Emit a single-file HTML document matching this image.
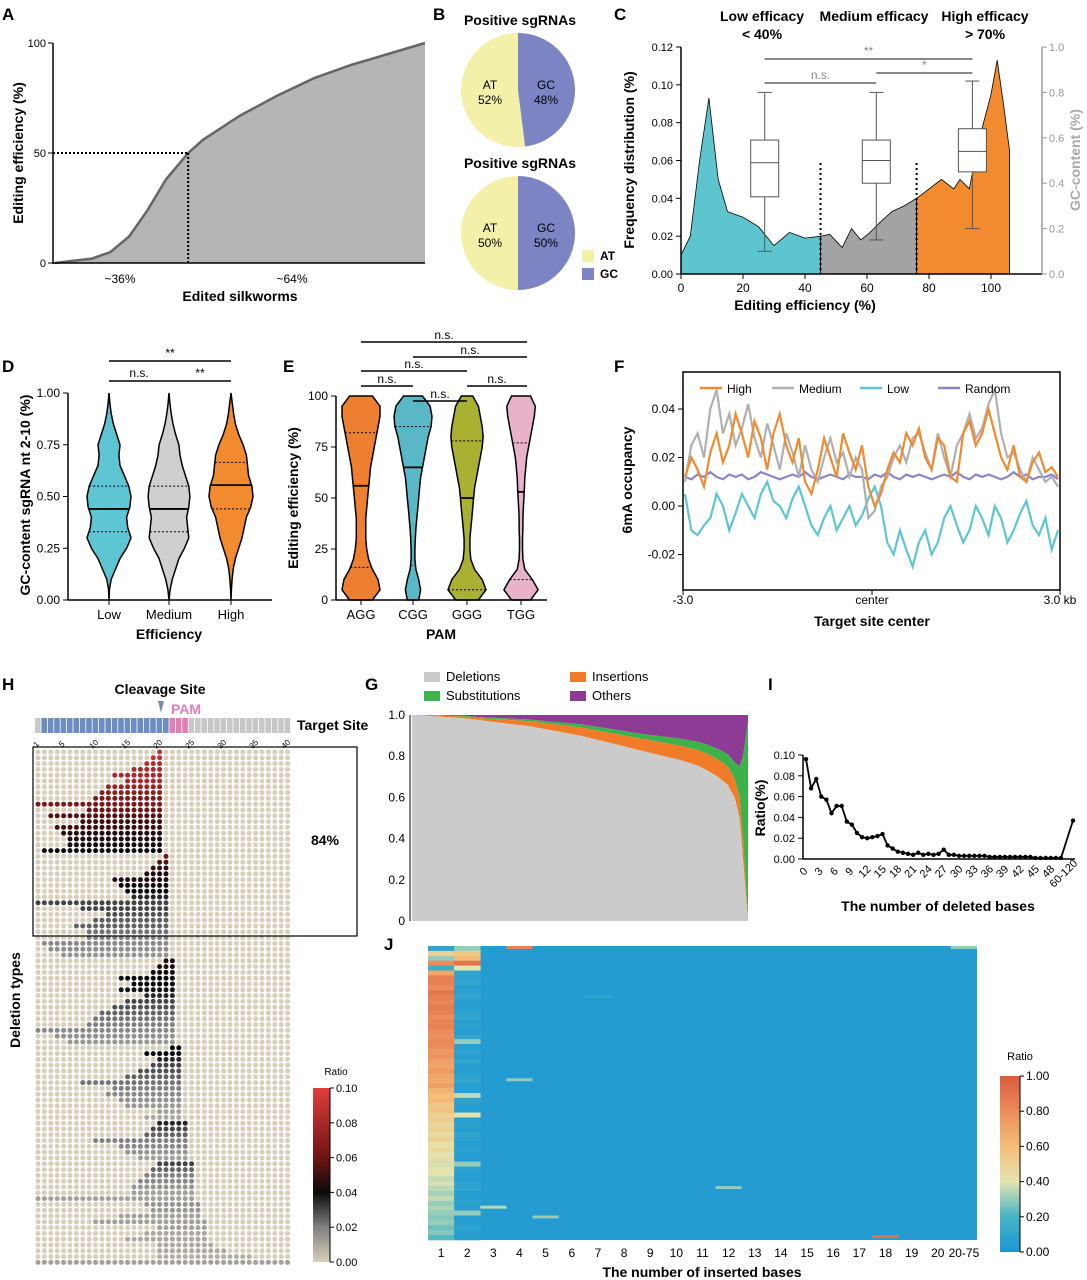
<!DOCTYPE html>
<html><head><meta charset="utf-8"><style>
body{margin:0;background:#fff}
svg{display:block;font-family:"Liberation Sans",Arial,sans-serif}
.pl{font-size:17px;font-weight:bold}
.t{font-size:12px}
.tb{font-size:14px;font-weight:bold}
</style></head><body>
<svg id="s" width="1087" height="1280" viewBox="0 0 1087 1280" xmlns="http://www.w3.org/2000/svg">
<g>
<text class="pl" x="2" y="20">A</text><text class="pl" x="433" y="20">B</text><text class="pl" x="614" y="20">C</text>
<text class="pl" x="2" y="372">D</text><text class="pl" x="283" y="372">E</text><text class="pl" x="614" y="372">F</text>
<text class="pl" x="2" y="690">H</text><text class="pl" x="365" y="690">G</text><text class="pl" x="768" y="690">I</text><text class="pl" x="384" y="950">J</text>
</g>
</svg>
<script>
const NS="http://www.w3.org/2000/svg";const S=document.getElementById('s');
function E(t,a,p,txt){const e=document.createElementNS(NS,t);for(const k in a)e.setAttribute(k,a[k]);if(txt!==undefined)e.textContent=txt;(p||S).appendChild(e);return e;}
function G(name){const g=E('g',{});return g;}

// ---------- DATA ----------
const aX=[0,0.05,0.1,0.15,0.2,0.25,0.3,0.36,0.4,0.5,0.6,0.7,0.8,0.9,1.0];
const aY=[0,1,2,5,12,24,38,50,56,67,76,84,90,95,100];
const pie1=[52,48];const pie2=[50,50];
const cEffCyan=[0,3,6,9,12,15,20,25,30,35,40,45];
const cFreqCyan=[0.01,0.02,0.06,0.093,0.05,0.033,0.03,0.025,0.015,0.022,0.019,0.02];
const cEffGray=[45,48,52,55,58,61,64,68,72,76];
const cFreqGray=[0.02,0.021,0.014,0.024,0.018,0.022,0.027,0.033,0.036,0.04];
const cEffOr=[76,80,84,88,90,93,96,100,102,104,106];
const cFreqOr=[0.04,0.045,0.05,0.045,0.05,0.045,0.07,0.095,0.113,0.09,0.065];
const cBoxPos=[27,63,94];
const cBoxStats=[[0.1,0.34,0.49,0.59,0.8],[0.15,0.4,0.5,0.59,0.8],[0.2,0.45,0.54,0.64,0.85]];
const dCats=['Low','Medium','High'];
const dDens=[[0,0.02,0.1,0.3,0.5,0.8,1,0.85,0.8,0.95,1,0.9,0.7,0.5,0.45,0.5,0.35,0.2,0.1,0.04,0],
[0,0.05,0.15,0.3,0.45,0.7,0.9,0.85,0.8,0.9,0.95,0.9,0.75,0.6,0.5,0.45,0.3,0.18,0.1,0.04,0],
[0,0.02,0.05,0.1,0.2,0.35,0.5,0.6,0.7,0.9,1,0.95,0.8,0.75,0.7,0.55,0.35,0.2,0.12,0.06,0]];
const dQ=[[0.33,0.44,0.55],[0.33,0.44,0.55],[0.44,0.555,0.665]];
const eCats=['AGG','CGG','GGG','TGG'];
const eDens=[[0.6,1,0.9,0.6,0.4,0.3,0.25,0.25,0.25,0.3,0.35,0.4,0.45,0.5,0.6,0.7,0.8,0.9,1,1,0.6],
[0.3,0.4,0.3,0.15,0.1,0.1,0.12,0.15,0.2,0.25,0.3,0.35,0.4,0.5,0.6,0.7,0.8,0.95,1,0.9,0.5],
[0.6,1,0.8,0.4,0.2,0.15,0.15,0.2,0.25,0.3,0.35,0.4,0.5,0.6,0.7,0.8,0.85,0.8,0.7,0.6,0.3],
[0.5,0.9,0.6,0.2,0.1,0.08,0.08,0.1,0.1,0.12,0.15,0.18,0.2,0.25,0.3,0.4,0.5,0.6,0.7,0.75,0.5]];
const eQ=[[16,56,82],[17,65,85],[5,50,78],[10,53,77]];
const fHigh=[0.012,0.02,0.015,0.008,0.022,0.03,0.018,0.025,0.038,0.03,0.02,0.035,0.028,0.015,0.03,0.038,0.025,0.018,0.028,0.01,0.005,0.015,0.028,0.02,0.012,0.03,0.022,0.015,0.025,0.008,0.0,0.005,0.015,0.022,0.018,0.03,0.025,0.032,0.02,0.015,0.028,0.025,0.012,0.01,0.03,0.035,0.025,0.03,0.04,0.03,0.02,0.015,0.025,0.012,0.01,0.018,0.022,0.014,0.016,0.012];
const fMed=[0.01,0.025,0.03,0.02,0.04,0.048,0.03,0.038,0.025,0.032,0.042,0.028,0.02,0.034,0.025,0.015,0.03,0.022,0.012,0.025,0.015,0.01,0.02,0.028,0.018,0.022,0.012,0.02,0.015,-0.005,-0.002,0.008,0.012,0.02,0.025,0.018,0.028,0.03,0.022,0.015,0.03,0.02,0.012,0.025,0.03,0.038,0.028,0.032,0.042,0.048,0.03,0.02,0.022,0.015,0.01,0.02,0.015,0.01,0.012,0.008];
const fLow=[0.005,-0.01,-0.012,-0.008,-0.005,0.005,0.0,-0.01,-0.003,0.005,0.0,-0.005,0.005,0.01,0.002,0.0,-0.005,0.003,0.008,0.0,-0.008,-0.012,-0.005,0.0,-0.01,-0.005,0.0,-0.008,-0.004,0.003,0.008,0.0,-0.015,-0.02,-0.01,-0.018,-0.025,-0.015,-0.01,-0.02,-0.015,-0.005,0.0,-0.008,-0.015,-0.01,0.0,-0.005,-0.012,0.0,-0.005,-0.015,-0.01,-0.003,0.002,-0.008,-0.012,-0.005,-0.018,-0.01];
const fRand=[0.012,0.011,0.013,0.012,0.014,0.012,0.011,0.013,0.012,0.013,0.011,0.012,0.014,0.013,0.012,0.011,0.012,0.013,0.012,0.014,0.012,0.011,0.012,0.013,0.012,0.011,0.013,0.012,0.012,0.011,0.013,0.012,0.014,0.012,0.011,0.013,0.012,0.013,0.012,0.011,0.012,0.013,0.012,0.014,0.012,0.011,0.013,0.012,0.013,0.012,0.011,0.012,0.014,0.012,0.013,0.011,0.012,0.012,0.013,0.011];
const gX=[0,0.05,0.1,0.15,0.2,0.25,0.3,0.35,0.4,0.45,0.5,0.55,0.6,0.65,0.7,0.75,0.8,0.85,0.88,0.91,0.94,0.96,0.975,0.985,1];
const gDel=[1,0.995,0.99,0.985,0.975,0.965,0.955,0.945,0.93,0.915,0.9,0.88,0.86,0.84,0.82,0.8,0.78,0.755,0.73,0.7,0.66,0.6,0.5,0.3,0];
const gIns=[0,0.003,0.005,0.008,0.01,0.015,0.02,0.025,0.03,0.035,0.04,0.045,0.05,0.055,0.06,0.065,0.07,0.075,0.08,0.085,0.09,0.09,0.1,0.1,0.02];
const gSub=[0,0.002,0.003,0.004,0.005,0.006,0.007,0.008,0.01,0.012,0.015,0.018,0.02,0.022,0.025,0.03,0.035,0.04,0.045,0.05,0.06,0.08,0.15,0.4,0.95];
const iVals=[0.096,0.068,0.077,0.06,0.057,0.044,0.051,0.051,0.036,0.033,0.025,0.021,0.02,0.021,0.022,0.024,0.013,0.01,0.007,0.006,0.005,0.004,0.006,0.004,0.005,0.004,0.005,0.009,0.004,0.004,0.003,0.003,0.003,0.003,0.003,0.003,0.002,0.002,0.002,0.002,0.002,0.002,0.002,0.002,0.002,0.001,0.001,0.001,0.001,0.001,0.001,0.037];
const iTicks=['0','3','6','9','12','15','18','21','24','27','30','33','36','39','42','45','48'];
const hDel=[[20,20,.09],[19,20,.09],[18,20,.085],[16,20,.08],[13,20,.08],[15,20,.08],[12,20,.075],[11,20,.07],[10,20,.065],[1,20,.065],[9,20,.06],[3,20,.055],[8,20,.05],[4,20,.05],[5,20,.045],[6,20,.045],[6,20,.042],[2,20,.04],
[21,21,.06],[20,21,.055],[19,21,.05],[18,21,.045],[13,21,.045],[14,21,.042],[15,21,.04],[16,21,.035],[1,21,.03],[8,21,.03],[12,21,.028],[10,21,.026],[7,21,.025],[9,21,.022],[9,21,.02],[2,21,.018],[3,21,.017],[5,21,.015],
[21,22,.045],[20,22,.045],[19,22,.042],[14,22,.04],[16,22,.04],[14,22,.038],[18,22,.035],[15,22,.03],[13,22,.028],[11,22,.025],[10,22,.022],[9,22,.02],[1,22,.018],[4,22,.016],[6,22,.014],
[22,23,.04],[18,23,.04],[20,23,.035],[19,23,.03],[17,23,.028],[15,23,.025],[8,23,.022],[13,23,.02],[12,23,.018],[14,23,.016],[15,23,.014],[20,23,.012],[18,23,.01],
[20,24,.035],[19,24,.03],[18,24,.025],[10,24,.02],[14,24,.018],[15,24,.015],[17,24,.012],
[20,25,.03],[19,25,.025],[18,25,.02],[17,25,.018],[16,25,.015],[16,25,.012],[1,25,.012],
[18,26,.015],[19,26,.014],[14,26,.012],[10,27,.012],[20,27,.012],[18,27,.01],[15,27,.01],[20,28,.01],[20,30,.01],[20,34,.008],[1,40,.012]];
const jCols=['1','2','3','4','5','6','7','8','9','10','11','12','13','14','15','16','17','18','19','20','20-75'];
const jCol1=[0.1,0.5,0.3,0.8,0.15,0.7,0.85,0.85,0.8,0.88,0.85,0.82,0.86,0.84,0.8,0.83,0.85,0.8,0.78,0.82,0.8,0.75,0.78,0.72,0.7,0.74,0.7,0.68,0.72,0.65,0.6,0.62,0.55,0.58,0.5,0.52,0.48,0.5,0.45,0.5,0.42,0.46,0.4,0.44,0.38,0.42,0.4,0.36,0.38,0.35,0.32,0.36,0.3,0.33,0.3,0.28,0.3,0.25,0.28,0.22];
const jCol2=[0.3,0.55,0.6,0.9,0.4,0.1,0.08,0.1,0.05,0.08,0.1,0.06,0.05,0.08,0.1,0.06,0.08,0.05,0.1,0.3,0.06,0.08,0.05,0.1,0.06,0.05,0.08,0.1,0.06,0.05,0.35,0.08,0.06,0.05,0.4,0.06,0.08,0.05,0.1,0.06,0.05,0.08,0.06,0.05,0.3,0.08,0.06,0.05,0.08,0.1,0.06,0.05,0.08,0.06,0.3,0.05,0.06,0.08,0.05,0.06];
const jSpikes=[[0,3,0.85],[0,20,0.3],[27,3,0.3],[55,4,0.3],[53,2,0.35],[49,11,0.3],[59,17,0.9],[10,6,0.1]];

// ---------- helpers ----------
function txt(p,x,y,s,extra){const a=Object.assign({x:x,y:y,'font-size':12,'text-anchor':'middle'},extra||{});return E('text',a,p,s);}
function poly(pts){return pts.map((p,i)=>(i?'L':'M')+p[0].toFixed(1)+' '+p[1].toFixed(1)).join(' ');}

// ---------- A ----------
(function(){const g=G('panel-a-cumulative');const X=f=>55+f*370,Y=v=>263-v*2.2;
const pts=aX.map((f,i)=>[X(f),Y(aY[i])]);
const a=E('path',{d:poly([[X(0),263]].concat(pts).concat([[X(1),263]]))+'Z',fill:'#b5b5b7'},g);
const l=E('path',{d:poly(pts),fill:'none',stroke:'#666',"stroke-width":2.5},g);
E('line',{x1:53,y1:43,x2:53,y2:264,stroke:'#000','stroke-width':1.5},g);E('line',{x1:53,y1:263,x2:425,y2:263,stroke:'#000','stroke-width':1.5},g);
[0,50,100].forEach(v=>{E('line',{x1:48,x2:53,y1:Y(v),y2:Y(v),stroke:'#000'},g);txt(g,46,Y(v)+4,v,{'text-anchor':'end','font-size':11});});
E('line',{x1:53,y1:Y(50),x2:X(0.36),y2:Y(50),stroke:'#000','stroke-dasharray':'2,2','stroke-width':2},g);
E('line',{x1:X(0.36),y1:Y(50),x2:X(0.36),y2:263,stroke:'#000','stroke-dasharray':'2,2','stroke-width':2},g);
txt(g,120,283,'~36%');txt(g,292,283,'~64%');
const xt=txt(g,240,301,'Edited silkworms',{class:'tb'});
const yt=txt(g,23,153,'Editing efficiency (%)',{class:'tb',transform:'rotate(-90 23 153)'});})();

// ---------- B ----------
(function(){const g=G('panel-b-pies');
function pie(cy,vals,title){txt(g,520,cy-65,title,{class:'tb'});const r=57,cx=518;
const ang=vals[0]/100*2*Math.PI;
const x1=cx-r*Math.sin(ang),y1=cy-r*Math.cos(ang);
const s1=E('path',{d:`M${cx} ${cy} L${cx} ${cy-r} A${r} ${r} 0 ${ang>Math.PI?1:0} 0 ${x1} ${y1} Z`,fill:'#f3f0a9'},g);
const s2=E('path',{d:`M${cx} ${cy} L${cx} ${cy-r} A${r} ${r} 0 ${ang>Math.PI?0:1} 1 ${x1} ${y1} Z`,fill:'#7c84c4'},g);
txt(g,490,cy-1,'AT');txt(g,490,cy+14,vals[0]+'%');txt(g,546,cy-1,'GC');txt(g,546,cy+14,vals[1]+'%');}
pie(90,pie1,'Positive sgRNAs');pie(233,pie2,'Positive sgRNAs');
E('rect',{x:582,y:250,width:12,height:12,fill:'#f3f0a9'},g);txt(g,600,260,'AT',{'text-anchor':'start','font-weight':'bold'});
E('rect',{x:582,y:268,width:12,height:12,fill:'#7c84c4'},g);txt(g,600,278,'GC',{'text-anchor':'start','font-weight':'bold'});})();

// ---------- C ----------
(function(){const g=G('panel-c-frequency');const X=v=>681+v*3.1,Y=v=>274-v*1891.7,Yr=v=>274-v*227;
function area(xs,ys,col,name){const pts=xs.map((x,i)=>[X(x),Y(ys[i])]);const p=E('path',{d:poly([[X(xs[0]),274]].concat(pts).concat([[X(xs[xs.length-1]),274]]))+'Z',fill:col,stroke:'#000','stroke-width':0.8},g);}
area(cEffCyan,cFreqCyan,'#5ec5cf','low-efficacy-area');area(cEffGray,cFreqGray,'#a3a3a5','medium-efficacy-area');area(cEffOr,cFreqOr,'#f28a30','high-efficacy-area');
[45,76].forEach(v=>E('line',{x1:X(v),x2:X(v),y1:163,y2:274,stroke:'#000','stroke-dasharray':'2,3','stroke-width':2},g));
cBoxPos.forEach((p,i)=>{const s=cBoxStats[i],cx=X(p);const b=G('box-'+i);g.appendChild(b);
E('line',{x1:cx,x2:cx,y1:Yr(s[0]),y2:Yr(s[4]),stroke:'#555'},b);[s[0],s[4]].forEach(v=>E('line',{x1:cx-7,x2:cx+7,y1:Yr(v),y2:Yr(v),stroke:'#555'},b));
E('rect',{x:cx-14,y:Yr(s[3]),width:28,height:Yr(s[1])-Yr(s[3]),fill:'#fff',stroke:'#555'},b);E('line',{x1:cx-14,x2:cx+14,y1:Yr(s[2]),y2:Yr(s[2]),stroke:'#555'},b);});
E('line',{x1:681,x2:681,y1:47,y2:274,stroke:'#000','stroke-width':1.5},g);E('line',{x1:681,x2:1042,y1:274,y2:274,stroke:'#000','stroke-width':1.5},g);
E('line',{x1:1042,x2:1042,y1:47,y2:274,stroke:'#999','stroke-width':1.5},g);
[0,0.02,0.04,0.06,0.08,0.10,0.12].forEach(v=>{E('line',{x1:676,x2:681,y1:Y(v),y2:Y(v),stroke:'#000'},g);txt(g,673,Y(v)+4,v.toFixed(2),{'text-anchor':'end','font-size':11});});
[0,0.2,0.4,0.6,0.8,1.0].forEach(v=>{E('line',{x1:1042,x2:1047,y1:Yr(v),y2:Yr(v),stroke:'#999'},g);txt(g,1049,Yr(v)+4,v===0?'0.0':v.toFixed(1),{'text-anchor':'start','font-size':11,fill:'#999'});});
[0,20,40,60,80,100].forEach(v=>{E('line',{x1:X(v),x2:X(v),y1:274,y2:279,stroke:'#000'},g);txt(g,X(v),292,v,{'font-size':12});});
txt(g,805,310,'Editing efficiency (%)',{class:'tb'});
txt(g,634,160,'Frequency distribution (%)',{class:'tb',transform:'rotate(-90 634 160)'});
txt(g,1080,160,'GC-content (%)',{class:'tb',fill:'#aaa',transform:'rotate(-90 1080 160)'});
txt(g,762,21,'Low efficacy',{class:'tb','font-size':13});txt(g,762,39,'< 40%',{class:'tb','font-size':13});
txt(g,874,21,'Medium efficacy',{class:'tb','font-size':13});txt(g,985,21,'High efficacy',{class:'tb','font-size':13});txt(g,985,39,'> 70%',{class:'tb','font-size':13});
[[X(cBoxPos[0]),X(cBoxPos[2]),59,'**'],[X(cBoxPos[0]),X(cBoxPos[1]),83,'n.s.'],[X(cBoxPos[1]),X(cBoxPos[2]),73,'*']].forEach(s=>{E('line',{x1:s[0],x2:s[1],y1:s[2],y2:s[2],stroke:'#888','stroke-width':2},g);txt(g,(s[0]+s[1])/2,s[2]-4,s[3],{fill:'#888','font-size':12});});})();

// ---------- violin helper ----------
function violin(g,cx,dens,vals,yFn,step,hw,col,q,name){const L=[],R=[];dens.forEach((d,i)=>{const y=yFn(i*step);L.push([cx-d*hw,y]);R.push([cx+d*hw,y]);});
const p=E('path',{d:poly(L.concat(R.reverse()))+'Z',fill:col,stroke:'#000','stroke-width':1.5},g);
function wAt(v){const f=v/step,i=Math.floor(f),t=f-i;return ((dens[i]||0)*(1-t)+(dens[i+1]||0)*t)*hw;}
q.forEach((v,k)=>{const w=wAt(v);E('line',{x1:cx-w,x2:cx+w,y1:yFn(v),y2:yFn(v),stroke:'#000','stroke-width':k===1?1.8:1,'stroke-dasharray':k===1?'':'2,2'},g);});}

// ---------- D ----------
(function(){const g=G('panel-d-violins');const Y=v=>600-v*207;const xs=[109,169,231];const cols=['#5ec5d3','#cfcfcf','#f28a30'];
dDens.forEach((d,i)=>violin(g,xs[i],d,null,Y,0.05,22,cols[i],dQ[i],'violin-'+dCats[i].toLowerCase()));
E('line',{x1:68,x2:68,y1:393,y2:600,stroke:'#000','stroke-width':1.5},g);E('line',{x1:68,x2:272,y1:600,y2:600,stroke:'#000','stroke-width':1.5},g);
[0,0.25,0.5,0.75,1].forEach(v=>{E('line',{x1:63,x2:68,y1:Y(v),y2:Y(v),stroke:'#000'},g);txt(g,60,Y(v)+4,v.toFixed(2),{'text-anchor':'end'});});
dCats.forEach((c,i)=>{E('line',{x1:xs[i],x2:xs[i],y1:600,y2:605,stroke:'#000'},g);txt(g,xs[i],619,c,{'font-size':13});});
txt(g,169,639,'Efficiency',{class:'tb'});txt(g,30,495,'GC-content sgRNA nt 2-10 (%)',{class:'tb',transform:'rotate(-90 30 495)'});
[[109,231,361,'**'],[109,169,381,'n.s.'],[169,231,381,'**']].forEach(s=>{E('line',{x1:s[0],x2:s[1],y1:s[2],y2:s[2],stroke:'#000','stroke-width':1.5},g);txt(g,(s[0]+s[1])/2,s[2]-4,s[3]);});})();

// ---------- E ----------
(function(){const g=G('panel-e-violins');const Y=v=>600-v*2.04;const xs=[361,413,467,521];const cols=['#ee7f30','#5ab8c6','#a9b132','#e8b2cb'];
eDens.forEach((d,i)=>violin(g,xs[i],d,null,Y,5,19,cols[i],eQ[i],'violin-'+eCats[i].toLowerCase()));
E('line',{x1:336,x2:336,y1:396,y2:600,stroke:'#000','stroke-width':1.5},g);E('line',{x1:336,x2:547,y1:600,y2:600,stroke:'#000','stroke-width':1.5},g);
[0,25,50,75,100].forEach(v=>{E('line',{x1:331,x2:336,y1:Y(v),y2:Y(v),stroke:'#000'},g);txt(g,328,Y(v)+4,v,{'text-anchor':'end'});});
eCats.forEach((c,i)=>{E('line',{x1:xs[i],x2:xs[i],y1:600,y2:605,stroke:'#000'},g);txt(g,xs[i],619,c,{'font-size':13});});
txt(g,441,639,'PAM',{class:'tb'});txt(g,298,498,'Editing efficiency (%)',{class:'tb',transform:'rotate(-90 298 498)'});
[[361,527,342],[413,527,357],[361,467,371],[361,413,386],[467,527,386],[413,467,401]].forEach(s=>{E('line',{x1:s[0],x2:s[1],y1:s[2],y2:s[2],stroke:'#000','stroke-width':1.5},g);txt(g,(s[0]+s[1])/2,s[2]-3,'n.s.');});})();

// ---------- F ----------
(function(){const g=G('panel-f-occupancy');const n=fHigh.length;const X=i=>685+i*(373/(n-1)),Y=v=>506-v*2425;
E('rect',{x:683,y:372,width:377,height:218,fill:'none',stroke:'#000','stroke-width':1.5},g);
[[fRand,'#8a86c6','random'],[fLow,'#5ec5d3','low'],[fMed,'#b0b0b0','medium'],[fHigh,'#f28a30','high']].forEach(s=>{const p=E('path',{d:poly(s[0].map((v,i)=>[X(i),Y(v)])),fill:'none',stroke:s[1],'stroke-width':2.2},g);});
[0.04,0.02,0,-0.02].forEach(v=>{E('line',{x1:678,x2:683,y1:Y(v),y2:Y(v),stroke:'#000'},g);txt(g,675,Y(v)+4,v===0?'0.00':v.toFixed(2),{'text-anchor':'end'});});
[['-3.0',683],['center',872],['3.0 kb',1060]].forEach(t=>{E('line',{x1:t[1],x2:t[1],y1:590,y2:595,stroke:'#000'},g);txt(g,t[1],604,t[0]);});
txt(g,872,626,'Target site center',{class:'tb'});txt(g,632,480,'6mA occupancy',{class:'tb',transform:'rotate(-90 632 480)'});
[['High','#f28a30',700],['Medium','#b0b0b0',772],['Low','#5ec5d3',860],['Random','#8a86c6',938]].forEach(l=>{E('line',{x1:l[2],x2:l[2]+22,y1:388,y2:388,stroke:l[1],'stroke-width':2.5},g);txt(g,l[2]+27,393,l[0],{'text-anchor':'start'});});})();

// ---------- H ----------
(function(){const g=G('panel-h-deletions');const X=c=>38+(c-1)*6.4,Y=r=>752+r*5.8;
function col(v){const st=[[0,[217,206,186]],[0.02,[128,128,128]],[0.04,[10,10,10]],[0.06,[110,20,20]],[0.1,[226,60,60]]];for(let i=1;i<st.length;i++){if(v<=st[i][0]){const t=(v-st[i-1][0])/(st[i][0]-st[i-1][0]);const c=st[i-1][1].map((a,k)=>Math.round(a+(st[i][1][k]-a)*t));return `rgb(${c})`;}}return 'rgb(226,60,60)';}
for(let c=1;c<=40;c++){const cc=c<=1?'#c8c8c8':c<=21?'#6d8cc0':c<=24?'#e07fb3':'#c8c8c8';E('rect',{x:X(c)-3,y:718,width:5.6,height:15,fill:cc},g);
if(c===1||c%5===0)txt(g,X(c),746,c,{'font-size':8,transform:`rotate(-45 ${X(c)} 746)`});}
txt(g,160,694,'Cleavage Site',{class:'tb','font-size':13});E('path',{d:'M158 701 L164 701 L161 713 Z',fill:'#6d8cc0'},g);
txt(g,186,714,'PAM',{class:'tb','font-size':12,fill:'#e07fb3'});txt(g,297,730,'Target Site',{class:'tb','font-size':13,'text-anchor':'start'});
const dots=G('dot-matrix');g.appendChild(dots);
for(let r=0;r<hDel.length;r++){const d=hDel[r];for(let c=1;c<=40;c++){const v=(c>=d[0]&&c<=d[1])?d[2]:0;E('circle',{cx:X(c),cy:Y(r),r:2.5,fill:col(v)},dots);}}
E('rect',{x:33,y:747,width:324,height:189,fill:'none',stroke:'#000','stroke-width':1.2},g);txt(g,325,845,'84%',{class:'tb','font-size':15});
txt(g,20,1000,'Deletion types',{class:'tb','font-size':15,transform:'rotate(-90 20 1000)'});
const lg=E('defs',{},g);const gr=E('linearGradient',{id:'hg',x1:0,y1:1,x2:0,y2:0},lg);
[[0,'rgb(217,206,186)'],[0.2,'rgb(128,128,128)'],[0.4,'rgb(10,10,10)'],[0.6,'rgb(110,20,20)'],[1,'rgb(226,60,60)']].forEach(s=>E('stop',{offset:s[0],'stop-color':s[1]},gr));
E('rect',{x:313,y:1088,width:17,height:174,fill:'url(#hg)'},g);E('line',{x1:330,x2:330,y1:1088,y2:1262,stroke:'#000'},g);
txt(g,336,1075,'Ratio',{'font-size':10});[0,0.02,0.04,0.06,0.08,0.1].forEach(v=>{const y=1262-v*1740;E('line',{x1:330,x2:334,y1:y,y2:y,stroke:'#000'},g);txt(g,336,y+4,v.toFixed(2),{'text-anchor':'start','font-size':11});});})();

// ---------- G ----------
(function(){const g=G('panel-g-stacked');const X=f=>412+f*336,Y=v=>921-v*206;
const c1=gDel,c2=gDel.map((v,i)=>v+gIns[i]),c3=c2.map((v,i)=>Math.min(1,v+gSub[i]));
function band(lo,hi,col,name){const top=gX.map((f,i)=>[X(f),Y(hi[i])]);const bot=gX.map((f,i)=>[X(f),Y(lo[i])]).reverse();const p=E('path',{d:poly(top.concat(bot))+'Z',fill:col},g);}
const zero=gX.map(()=>0),one=gX.map(()=>1);
band(c3,one,'#8e3b96','others-area');band(c2,c3,'#3db24a','substitutions-area');band(c1,c2,'#f07c2a','insertions-area');band(zero,c1,'#cbcbcb','deletions-area');
E('line',{x1:410,x2:410,y1:715,y2:921,stroke:'#000'},g);
[0,0.2,0.4,0.6,0.8,1].forEach(v=>txt(g,405,Y(v)+4,v===0?'0':v.toFixed(1),{'text-anchor':'end'}));
[['Deletions','#cbcbcb',446,681],['Insertions','#f07c2a',592,681],['Substitutions','#3db24a',446,700],['Others','#8e3b96',592,700]].forEach(l=>{E('rect',{x:l[2]-22,y:l[3]-9,width:16,height:10,fill:l[1]},g);txt(g,l[2],l[3],l[0],{'text-anchor':'start','font-size':13});});})();

// ---------- I ----------
(function(){const g=G('panel-i-ratio');const X=i=>806+i*5.1,Y=v=>859-v*1040;
E('line',{x1:803,x2:803,y1:755,y2:859,stroke:'#000','stroke-width':1.5},g);E('line',{x1:803,x2:1075,y1:859,y2:859,stroke:'#000','stroke-width':1.5},g);
[0,0.02,0.04,0.06,0.08,0.1].forEach(v=>{E('line',{x1:798,x2:803,y1:Y(v),y2:Y(v),stroke:'#000'},g);txt(g,795,Y(v)+4,v===0?'0.00':v.toFixed(2),{'text-anchor':'end','font-size':11});});
const pts=iVals.map((v,i)=>[X(i),Y(v)]);pts[pts.length-1][0]=1073;
const l=E('path',{d:poly(pts),fill:'none',stroke:'#000','stroke-width':1.8},g);
pts.forEach(p=>E('circle',{cx:p[0],cy:p[1],r:2.2,fill:'#000'},g));
iTicks.forEach((t,k)=>{const x=X(k*3);txt(g,x,874,t,{'font-size':11,transform:`rotate(-45 ${x} 874)`});});
txt(g,1066,876,'60-120',{'font-size':11,transform:'rotate(-45 1066 876)'});
txt(g,938,911,'The number of deleted bases',{class:'tb','font-size':13});txt(g,765,808,'Ratio(%)',{class:'tb',transform:'rotate(-90 765 808)'});})();

// ---------- J ----------
(function(){const g=G('panel-j-heatmap');const n=jCol1.length,cw=549/21,rh=294/n;const X=c=>428+c*cw,Y=r=>946+r*rh;
function col(v){const st=[[0,[28,150,214]],[0.2,[70,180,196]],[0.4,[228,228,176]],[0.6,[244,190,120]],[0.8,[236,140,90]],[1,[218,92,60]]];for(let i=1;i<st.length;i++){if(v<=st[i][0]){const t=(v-st[i-1][0])/(st[i][0]-st[i-1][0]);const c=st[i-1][1].map((a,k)=>Math.round(a+(st[i][1][k]-a)*t));return `rgb(${c})`;}}return 'rgb(218,92,60)';}
E('rect',{x:X(0),y:946,width:549,height:294,fill:col(0.04)},g);
for(let r=0;r<n;r++){E('rect',{x:X(0),y:Y(r),width:cw+0.3,height:rh+0.3,fill:col(jCol1[r])},g);E('rect',{x:X(1),y:Y(r),width:cw+0.3,height:rh+0.3,fill:col(jCol2[r])},g);}
jSpikes.forEach(s=>E('rect',{x:X(s[1]),y:Y(s[0]),width:cw,height:Math.max(1.5,rh*0.6),fill:col(s[2])},g));
jCols.forEach((c,i)=>txt(g,X(i)+cw/2,1257,c,{'font-size':12}));
txt(g,702,1277,'The number of inserted bases',{class:'tb','font-size':13});
const d=E('defs',{},g);const gr=E('linearGradient',{id:'jg',x1:0,y1:1,x2:0,y2:0},d);
[0,0.2,0.4,0.6,0.8,1].forEach(v=>E('stop',{offset:v,'stop-color':col(v)},gr));
E('rect',{x:1000,y:1076,width:20,height:176,fill:'url(#jg)'},g);E('line',{x1:1020,x2:1020,y1:1076,y2:1252,stroke:'#000'},g);
txt(g,1020,1060,'Ratio',{'font-size':11});[0,0.2,0.4,0.6,0.8,1].forEach(v=>{const y=1252-v*176;E('line',{x1:1020,x2:1024,y1:y,y2:y,stroke:'#000'},g);txt(g,1026,y+4,v.toFixed(2),{'text-anchor':'start','font-size':12});});})();
</script>
</body></html>
